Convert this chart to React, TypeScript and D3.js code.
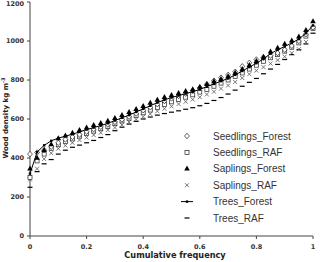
import React from 'react';
import * as d3 from 'd3';

// sorted wood density values (kg m-3) per group
const seedlingsForest = [420, 428, 440, 458, 478, 495, 508, 520, 535, 548, 560, 572, 585, 598, 612, 628, 645, 660, 676, 692, 706, 718, 730, 745, 760, 778, 796, 812, 826, 842, 870, 888, 905, 915, 925, 938, 955, 975, 1000, 1035, 1070];
const seedlingsRAF = [300, 385, 420, 448, 468, 484, 498, 512, 526, 538, 550, 562, 576, 590, 604, 618, 632, 646, 660, 674, 688, 700, 712, 724, 738, 752, 768, 784, 800, 818, 836, 856, 876, 896, 914, 930, 948, 968, 990, 1025, 1065];
const saplingsForest = [345, 400, 440, 470, 500, 514, 528, 542, 556, 568, 578, 590, 604, 620, 635, 650, 666, 682, 698, 712, 722, 732, 742, 752, 765, 778, 792, 804, 818, 836, 856, 876, 896, 918, 945, 965, 985, 1002, 1022, 1055, 1100];
const saplingsRAF = [290, 345, 395, 425, 448, 464, 478, 492, 505, 518, 530, 543, 556, 570, 584, 598, 612, 626, 640, 653, 665, 677, 689, 700, 712, 726, 740, 756, 772, 790, 810, 830, 848, 866, 884, 902, 920, 938, 958, 995, 1070];
const treesForest = [320, 430, 465, 488, 502, 512, 522, 534, 546, 556, 566, 578, 592, 606, 620, 636, 652, 668, 684, 698, 710, 720, 730, 740, 752, 766, 780, 794, 808, 826, 846, 866, 886, 908, 935, 955, 972, 990, 1010, 1040, 1080];
const treesRAF = [250, 330, 370, 392, 420, 440, 455, 466, 478, 490, 505, 520, 540, 558, 574, 588, 600, 610, 620, 628, 635, 642, 650, 658, 668, 680, 695, 710, 728, 748, 768, 788, 808, 832, 856, 880, 905, 930, 955, 985, 1040];

const legendLabels = ['Seedlings_Forest', 'Seedlings_RAF', 'Saplings_Forest', 'Saplings_RAF', 'Trees_Forest', 'Trees_RAF'];
const yTicks = [0, 200, 400, 600, 800, 1000, 1200];
const xTicks = [0, 0.2, 0.4, 0.6, 0.8, 1];

const W = 320;
const H = 262;
const ink = '#222';
const axisFont = "'DejaVu Sans', Verdana, sans-serif";

const x = d3.scaleLinear().domain([0, 1]).range([30, 313]);
const y = d3.scaleLinear().domain([0, 1200]).range([236, 2]);

// empirical cumulative frequency for a sorted sample
const cdf = (vals: number[]) => vals.map((v, i) => ({ f: i / (vals.length - 1), v }));

type Kind = 'diamond' | 'square' | 'triangle' | 'cross' | 'line' | 'dash';

const Marker: React.FC<{ kind: Kind; cx: number; cy: number }> = ({ kind, cx, cy }) => {
  switch (kind) {
    case 'diamond':
      return <path d={`M${cx},${cy - 2.8}L${cx + 2.4},${cy}L${cx},${cy + 2.8}L${cx - 2.4},${cy}Z`} fill="white" stroke={ink} strokeWidth={0.7} />;
    case 'square':
      return <rect x={cx - 2} y={cy - 2} width={4} height={4} fill="white" stroke={ink} strokeWidth={0.7} />;
    case 'triangle':
      return <path d={`M${cx},${cy - 3.2}L${cx + 2.8},${cy + 1.8}L${cx - 2.8},${cy + 1.8}Z`} fill="#000" />;
    case 'cross':
      return <path d={`M${cx - 2},${cy - 2}L${cx + 2},${cy + 2}M${cx - 2},${cy + 2}L${cx + 2},${cy - 2}`} stroke="#555" strokeWidth={0.8} />;
    case 'line':
      return <rect x={cx - 1.2} y={cy - 1.2} width={2.4} height={2.4} fill="#000" />;
    default:
      return <path d={`M${cx - 2.5},${cy}L${cx + 2.5},${cy}`} stroke="#000" strokeWidth={1.2} />;
  }
};

const series: { data: number[]; kind: Kind }[] = [
  { data: treesRAF, kind: 'dash' },
  { data: saplingsRAF, kind: 'cross' },
  { data: seedlingsRAF, kind: 'square' },
  { data: seedlingsForest, kind: 'diamond' },
  { data: treesForest, kind: 'line' },
  { data: saplingsForest, kind: 'triangle' },
];
const legendKinds: Kind[] = ['diamond', 'square', 'triangle', 'cross', 'line', 'dash'];

const line = d3.line<{ f: number; v: number }>().x(d => x(d.f)).y(d => y(d.v));

const App: React.FC = () => {
  return (
    <svg width={W} height={H} style={{ position: 'absolute', left: 0, top: 0, background: 'white' }} fontFamily="Arial, 'Liberation Sans', sans-serif">
      {/* axes */}
      <line x1={x(0)} x2={x(1)} y1={y(0)} y2={y(0)} stroke="#444" />
      <line x1={x(0)} x2={x(0)} y1={y(0)} y2={y(1200)} stroke="#444" />
      {yTicks.map(t => (
        <g key={t}>
          <line x1={x(0) - 3} x2={x(0)} y1={y(t)} y2={y(t)} stroke="#444" />
          <text x={x(0) - 6} y={Math.max(y(t), 3.5)} dy="0.35em" textAnchor="end" fontSize={6.5} fontWeight="bold" fontFamily={axisFont} fill="#333">{t}</text>
        </g>
      ))}
      {xTicks.map(t => (
        <g key={t}>
          <line x1={x(t)} x2={x(t)} y1={y(0)} y2={y(0) + 3} stroke="#444" />
          <text x={x(t)} y={y(0) + 13} textAnchor="middle" fontSize={6.5} fontWeight="bold" fontFamily={axisFont} fill="#333">{t}</text>
        </g>
      ))}
      <text x={175} y={258} textAnchor="middle" fontSize={8.2} fontWeight="bold" fontFamily={axisFont} fill="#222">Cumulative frequency</text>
      <text transform="translate(8,118) rotate(-90)" textAnchor="middle" fontSize={7} fontWeight="bold" fontFamily={axisFont} fill="#222">
        Wood density kg m<tspan dy={-3} fontSize={5}>-3</tspan>
      </text>

      {/* data */}
      {series.map((s, si) => {
        const pts = cdf(s.data);
        return (
          <g key={si}>
            {s.kind === 'line' && <path d={line(pts) || ''} fill="none" stroke="#000" strokeWidth={1} />}
            {pts.map((p, i) => <Marker key={i} kind={s.kind} cx={x(p.f)} cy={y(p.v)} />)}
          </g>
        );
      })}

      {/* legend */}
      {legendLabels.map((l, i) => {
        const ly = 136 + i * 16.4;
        return (
          <g key={l}>
            {legendKinds[i] === 'line' && <line x1={181} x2={193} y1={ly} y2={ly} stroke="#000" />}
            <Marker kind={legendKinds[i]} cx={187} cy={ly} />
            <text x={213} y={ly} dy="0.35em" fontSize={10} fill="#333">{l}</text>
          </g>
        );
      })}
    </svg>
  );
};

export default App;
